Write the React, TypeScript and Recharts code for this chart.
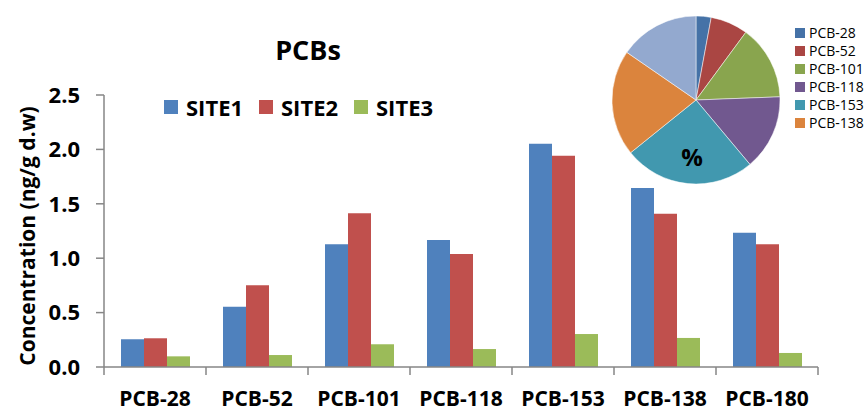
import { BarChart, Bar, XAxis, YAxis, PieChart, Pie, Cell } from 'recharts';

const categories = ['PCB-28', 'PCB-52', 'PCB-101', 'PCB-118', 'PCB-153', 'PCB-138', 'PCB-180'];
const site1 = [0.255, 0.554, 1.128, 1.167, 2.053, 1.645, 1.234];
const site2 = [0.264, 0.751, 1.413, 1.039, 1.942, 1.409, 1.128];
const site3 = [0.098, 0.11, 0.209, 0.165, 0.303, 0.267, 0.129];
const yTicks = [0, 0.5, 1.0, 1.5, 2.0, 2.5];

// share of each congener in the inset pie (%)
const pieShare = [2.9, 7.2, 14.3, 14.5, 25.3, 20.4, 15.4];
const pieColors = ['#4572A7', '#AA4643', '#89A54E', '#71588F', '#4198AF', '#DB843D', '#93A9CF'];

const seriesNames = ['SITE1', 'SITE2', 'SITE3'];
const seriesColors = ['#4F81BD', '#C0504D', '#9BBB59'];

const FONT = '"Open Sans", "Liberation Sans", sans-serif';
const AXIS = '#868686';

const W = 866;
const H = 412;
const MARGIN = { top: 95, right: 48, bottom: 0, left: 24 };
const Y_WIDTH = 80;
const band = (W - MARGIN.left - MARGIN.right - Y_WIDTH) / categories.length;

const barData = categories.map((name, i) => ({
  name,
  SITE1: site1[i],
  SITE2: site2[i],
  SITE3: site3[i],
}));

const pieData = categories.map((name, i) => ({ name, value: pieShare[i] }));

// category label plus Excel-style tick marks between categories
const CategoryTick = (props: any) => {
  const { x, y, payload, index } = props;
  const axisY = y - 24;
  const left = x - band / 2;
  return (
    <g>
      <line x1={left} x2={left} y1={axisY} y2={axisY + 8} stroke={AXIS} strokeWidth={1.5} />
      {index === categories.length - 1 && (
        <line x1={x + band / 2} x2={x + band / 2} y1={axisY} y2={axisY + 8} stroke={AXIS} strokeWidth={1.5} />
      )}
      <text
        x={x}
        y={y}
        dy="0.71em"
        textAnchor="middle"
        style={{ fill: '#000', fontFamily: FONT, fontWeight: 700, fontSize: 21 }}
      >
        {payload.value}
      </text>
    </g>
  );
};

export default function App() {
  return (
    <div style={{ position: 'absolute', left: 0, top: 0, width: W, height: H, background: '#fff', overflow: 'hidden' }}>
      <BarChart
        width={W}
        height={H}
        data={barData}
        margin={MARGIN}
        barCategoryGap="16.67%"
        barGap={0}
      >
        <XAxis
          dataKey="name"
          height={45}
          axisLine={{ stroke: AXIS, strokeWidth: 1.5 }}
          tickLine={false}
          tickSize={8}
          tickMargin={16}
          interval={0}
          tick={<CategoryTick />}
        />
        <YAxis
          width={Y_WIDTH}
          domain={[0, 2.5]}
          ticks={yTicks}
          allowDataOverflow
          axisLine={{ stroke: AXIS, strokeWidth: 1.5 }}
          tickLine={{ stroke: AXIS, strokeWidth: 1.5 }}
          tickSize={8}
          tickMargin={16}
          tickFormatter={(v: number) => v.toFixed(1)}
          tick={{ fill: '#000', fontFamily: FONT, fontWeight: 700, fontSize: 22 }}
          label={{
            content: () => (
              <text
                x={27}
                y={236}
                transform="rotate(-90 27 236)"
                textAnchor="middle"
                dominantBaseline="central"
                style={{ fontFamily: FONT, fontWeight: 700, fontSize: 21, fill: '#000' }}
              >
                Concentration (ng/g d.w)
              </text>
            ),
          }}
        />
        {seriesNames.map((s, i) => (
          <Bar key={s} dataKey={s} fill={seriesColors[i]} isAnimationActive={false} />
        ))}
      </BarChart>

      <div
        style={{
          position: 'absolute',
          left: 208,
          width: 200,
          top: 30,
          textAlign: 'center',
          fontFamily: FONT,
          fontWeight: 700,
          fontSize: 27,
          lineHeight: '40px',
        }}
      >
        PCBs
      </div>

      {/* series legend */}
      <div
        style={{
          position: 'absolute',
          left: 164,
          top: 96,
          display: 'flex',
          fontFamily: FONT,
          fontWeight: 700,
          fontSize: 22,
        }}
      >
        {seriesNames.map((s, i) => (
          <div key={s} style={{ display: 'flex', alignItems: 'center', width: 95 }}>
            <span style={{ width: 14, height: 14, background: seriesColors[i], marginRight: 8 }} />
            <span style={{ lineHeight: '22px' }}>{s}</span>
          </div>
        ))}
      </div>

      <div style={{ position: 'absolute', left: 600, top: 0 }}>
        <PieChart width={266} height={200} margin={{ top: 0, right: 0, bottom: 0, left: 0 }}>
          <Pie
            data={pieData}
            dataKey="value"
            nameKey="name"
            cx={96}
            cy={100}
            outerRadius={84}
            startAngle={90}
            endAngle={-270}
            stroke="#fff"
            strokeWidth={0.5}
            isAnimationActive={false}
          >
            {pieData.map((d, i) => (
              <Cell key={d.name} fill={pieColors[i]} />
            ))}
          </Pie>
        </PieChart>
        <div
          style={{
            position: 'absolute',
            left: 72,
            width: 40,
            top: 142,
            textAlign: 'center',
            fontFamily: FONT,
            fontWeight: 700,
            fontSize: 24,
            lineHeight: '30px',
          }}
        >
          %
        </div>
        {/* pie legend, PCB-180 falls outside the frame */}
        <div style={{ position: 'absolute', left: 195, top: 24, fontFamily: FONT, fontSize: 14, color: '#000' }}>
          {categories.slice(0, 6).map((c, i) => (
            <div key={c} style={{ display: 'flex', alignItems: 'center', height: 18 }}>
              <span style={{ width: 10, height: 10, background: pieColors[i], marginRight: 4 }} />
              <span style={{ lineHeight: '18px' }}>{c}</span>
            </div>
          ))}
        </div>
      </div>
    </div>
  );
}
